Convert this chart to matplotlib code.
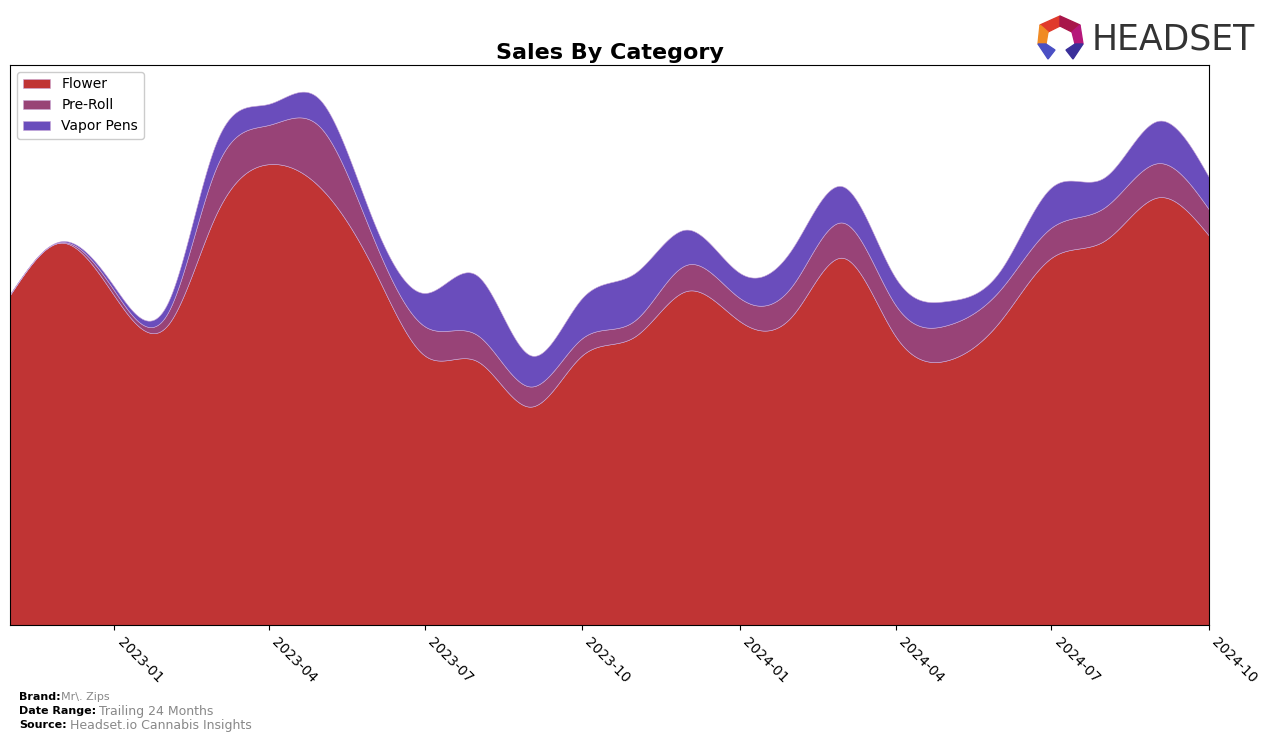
"""
Sales by category - stacked, smoothed area chart
"""

import numpy as np
import pandas as pd

import matplotlib as mpl
mpl.use("Agg")
import matplotlib.pyplot as plt
import matplotlib.dates as mdates
from matplotlib import font_manager
from matplotlib.patches import Polygon

months = pd.date_range("2022-11-01", "2024-10-01", freq="MS")
flower = [328, 380, 327, 298, 407, 458, 435, 355, 268, 262, 217, 268,
          287, 332, 302, 308, 365, 287, 263, 302, 365, 382, 425, 387]
pre_roll = [0.5, 0.5, 5, 12, 46, 39, 60, 30, 29, 26, 20, 17,
            16, 26, 23, 30, 35, 31, 35, 31, 30, 33, 34, 26]
vapor_pens = [0.5, 1, 4, 10, 25, 21, 27, 17, 33, 59, 31, 40,
              47, 35, 25, 37, 36, 27, 24, 19, 40, 30, 42, 32]

categories = ["Flower", "Pre-Roll", "Vapor Pens"]
colors = ["#c03434", "#984377", "#6a4dbc"]


def natural_spline(x, y, xs):
    # plain natural cubic spline, no scipy here
    x, y = np.asarray(x, float), np.asarray(y, float)
    n = len(x)
    h = np.diff(x)
    A = np.zeros((n, n))
    b = np.zeros(n)
    A[0, 0] = A[-1, -1] = 1
    for i in range(1, n - 1):
        A[i, i - 1] = h[i - 1]
        A[i, i] = 2 * (h[i - 1] + h[i])
        A[i, i + 1] = h[i]
        b[i] = 3 * ((y[i + 1] - y[i]) / h[i] - (y[i] - y[i - 1]) / h[i - 1])
    c = np.linalg.solve(A, b)
    idx = np.clip(np.searchsorted(x, xs) - 1, 0, n - 2)
    dx = xs - x[idx]
    bb = (y[idx + 1] - y[idx]) / h[idx] - h[idx] * (2 * c[idx] + c[idx + 1]) / 3
    dd = (c[idx + 1] - c[idx]) / (3 * h[idx])
    return y[idx] + bb * dx + c[idx] * dx**2 + dd * dx**3


xnum = mdates.date2num(months)
xs = np.linspace(xnum[0], xnum[-1], 600)
smooth = [np.clip(natural_spline(xnum, s, xs), 0, None) for s in (flower, pre_roll, vapor_pens)]

fig = plt.figure(figsize=(12.76, 7.42), dpi=100)
ax = fig.add_axes([10 / 1276, 1 - 625 / 742, 1199 / 1276, 560 / 742])

dates = mdates.num2date(xs)
ax.stackplot(dates, *smooth, labels=categories, colors=colors,
             edgecolor="#c9a8d8", linewidth=0.4)

total = np.sum(smooth, axis=0)
ax.set_ylim(0, total.max() * 1.05)
ax.set_xlim(months[0], months[-1])
ax.set_yticks([])
ax.xaxis.set_major_locator(mdates.MonthLocator(bymonth=[1, 4, 7, 10]))
ax.xaxis.set_major_formatter(mdates.DateFormatter("%Y-%m"))
plt.setp(ax.get_xticklabels(), rotation=-45, ha="left", fontsize=10)

ax.set_title("Sales By Category", fontsize=16, fontweight="bold", pad=4)
ax.legend(loc="upper left", fontsize=10, handlelength=2, framealpha=1)

# footer
fig.text(19 / 1276, 1 - 697 / 742, "Brand:", fontsize=8, fontweight="bold", va="center")
fig.text(61 / 1276, 1 - 697 / 742, "Mr\\. Zips", fontsize=8, color="#888888", va="center")
fig.text(19 / 1276, 1 - 711 / 742, "Date Range:", fontsize=8, fontweight="bold", va="center")
fig.text(99 / 1276, 1 - 711 / 742, "Trailing 24 Months", fontsize=9, color="#888888", va="center")
fig.text(19 / 1276, 1 - 725 / 742, "Source:", fontsize=8, fontweight="bold", va="center")
fig.text(70 / 1276, 1 - 725 / 742, "Headset.io Cannabis Insights", fontsize=9, color="#888888", va="center")

# logo
try:
    font_manager.findfont("Liberation Sans Narrow", fallback_to_default=False)
    logo_font, logo_size = "Liberation Sans Narrow", 32
except ValueError:
    logo_font, logo_size = "DejaVu Sans", 25
fig.text(1092 / 1276, 1 - 39 / 742, "HEADSET", fontsize=logo_size, family=logo_font,
         color="#333333", va="center", ha="left")
logo = [
    ([(1040, 25), (1060, 16), (1060, 26), (1048, 32)], "#e03a2c"),
    ([(1060, 16), (1080, 25), (1072, 32), (1060, 26)], "#a8154a"),
    ([(1040, 25), (1048, 32), (1046, 44), (1038, 44)], "#f08a24"),
    ([(1080, 25), (1083, 44), (1075, 44), (1072, 32)], "#b5177a"),
    ([(1038, 44), (1046, 44), (1055, 50), (1048, 59)], "#4a4fc4"),
    ([(1083, 44), (1075, 44), (1066, 50), (1073, 59)], "#3a2f9a"),
]
for pts, col in logo:
    fig.patches.append(Polygon([(px / 1276, 1 - py / 742) for px, py in pts],
                               closed=True, color=col, transform=fig.transFigure))

fig.savefig("out.png", dpi=100)
